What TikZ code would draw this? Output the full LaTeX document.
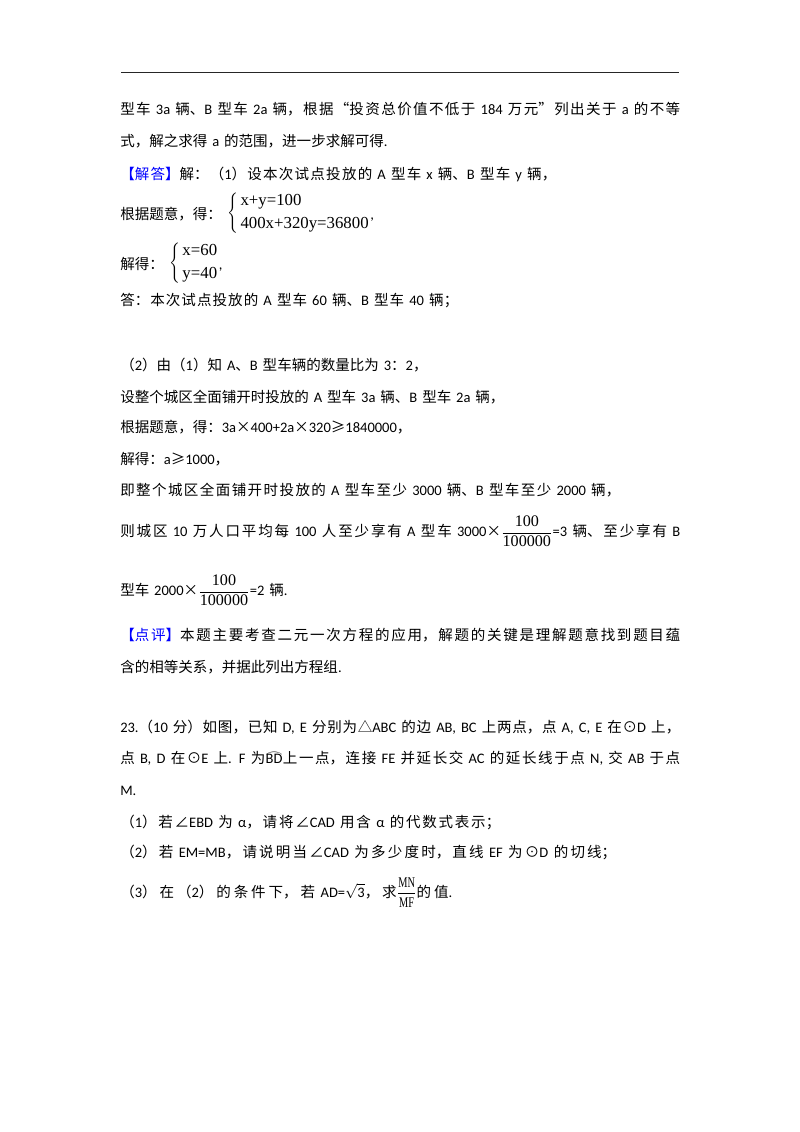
\documentclass[tikz,border=0pt]{standalone}
\usepackage{fontspec}
\usepackage{graphicx}
\setmainfont{Carlito}[WordSpace={1.5,0.5,1}]
\newfontfamily\cjk{Noto Sans CJK SC}
\newfontfamily\tms{Liberation Serif}
\definecolor{tagblue}{RGB}{0,0,255}
% hanzi runs are set in the CJK font, the rest in Carlito
\XeTeXinterchartokenstate=1
\newXeTeXintercharclass\hanzi
\makeatletter
\newcommand\hanzirange[2]{\count@=#1\relax
  \loop\XeTeXcharclass\count@=\hanzi\relax
  \ifnum\count@<#2\relax\advance\count@ by 1\repeat}
\makeatother
\hanzirange{"3000}{"303F}
\hanzirange{"4E00}{"9FFF}
\hanzirange{"FF00}{"FFEF}
\XeTeXcharclass"201C=\hanzi
\XeTeXcharclass"201D=\hanzi
\XeTeXcharclass"00D7=\hanzi
\XeTeXcharclass"2220=\hanzi
\XeTeXcharclass"2265=\hanzi
\XeTeXcharclass"2299=\hanzi
\XeTeXcharclass"25B3=\hanzi
\XeTeXinterchartoks 0 \hanzi={\cjk}
\XeTeXinterchartoks 4095 \hanzi={\cjk}
\XeTeXinterchartoks \hanzi 0={\rmfamily}
\XeTeXinterchartoks \hanzi 4095={\rmfamily}
\XeTeXlinebreaklocale "zh"
\XeTeXlinebreakskip=0pt plus 3pt
\newcommand\pagefont{\fontsize{10.8pt}{13pt}\selectfont}
\newcommand\eqn[1]{\hbox{\fontsize{12.5pt}{15pt}\tms #1}}
\newcommand\numfrac[2]{$\displaystyle\frac{\hbox{\fontsize{12pt}{14pt}\tms #1}}{\hbox{\fontsize{12pt}{14pt}\tms #2}}$}
\newcommand\thinfrac[2]{$\displaystyle\frac{\hbox{\fontsize{11pt}{13pt}\tms\scalebox{0.7}[1]{#1}}}{\hbox{\fontsize{11pt}{13pt}\tms\scalebox{0.7}[1]{#2}}}$}
\newcommand\arcover[1]{\vbox{\offinterlineskip\halign{\hfil##\hfil\cr\scalebox{1.2}[0.8]{$\frown$}\cr\noalign{\kern-1.5pt}#1\cr}}}
\renewcommand\arraystretch{1.27}
\begin{document}
\begin{tikzpicture}[x=0.744pt, y=-0.744pt,
    line/.style={anchor=base west, inner sep=0pt, font=\pagefont},
    endsat/.code={\pgfmathsetlengthmacro\linew{(#1-120)*0.744pt}%
      \tikzset{line, text width=\linew, align=justify,
        execute at begin node={\parfillskip=0pt\relax}}},
    fullline/.style={endsat=680}]
  \useasboundingbox (0,0) rectangle (800,1132);
  \draw[line width=1pt, black!85] (121,72.5) -- (679,72.5);
  % analysis, end
  \node[fullline] (l1) at (120,114) {型车 3a 辆、B 型车 2a 辆，根据“投资总价值不低于 184 万元”列出关于 a 的不等};
  \node[line] (l2) at (120,146) {式，解之求得 a 的范围，进一步求解可得.};
  % solution
  \node[endsat=556] (l3) at (120,179) {{\color{tagblue}【解答】}解：（1）设本次试点投放的 A 型车 x 辆、B 型车 y 辆，};
  \node[line] (l4) at (120,219) {根据题意，得：\hspace{4pt}\raisebox{2pt}{$\left\{\,\begin{array}{@{}l@{}}\eqn{x+y=100}\\\eqn{400x+320y=36800}\end{array}\right.$},};
  \node[line] (l5) at (120,269) {解得：\hspace{4pt}\raisebox{2pt}{$\left\{\,\begin{array}{@{}l@{}}\eqn{x=60}\\\eqn{y=40}\end{array}\right.$},};
  \node[endsat=458] (l6) at (120,305.5) {答：本次试点投放的 A 型车 60 辆、B 型车 40 辆；};
  \node[line] (l7) at (120,370.5) {（2）由（1）知 A、B 型车辆的数量比为 3：2，};
  \node[line] (l8) at (120,402) {设整个城区全面铺开时投放的 A 型车 3a 辆、B 型车 2a 辆，};
  \node[line] (l9) at (120,432) {根据题意，得：3a×400+2a×320≥1840000，};
  \node[line] (l10) at (120,464) {解得：a≥1000，};
  \node[endsat=620] (l11) at (120,495) {即整个城区全面铺开时投放的 A 型车至少 3000 辆、B 型车至少 2000 辆，};
  \node[fullline] (l12) at (120,536.5) {则城区 10 万人口平均每 100 人至少享有 A 型车 3000×\numfrac{100}{100000}=3 辆、至少享有 B};
  \node[line] (l13) at (120,595.5) {型车 2000×\numfrac{100}{100000}=2 辆.};
  % comment
  \node[fullline] (l14) at (120,640.5) {{\color{tagblue}【点评】}本题主要考查二元一次方程的应用，解题的关键是理解题意找到题目蕴};
  \node[line] (l15) at (120,672) {含的相等关系，并据此列出方程组.};
  % question 23
  \node[fullline] (l16) at (120,732) {23.（10 分）如图，已知 D, E 分别为△ABC 的边 AB, BC 上两点，点 A, C, E 在⊙D 上，};
  \node[fullline] (l17) at (120,763.5) {点 B, D 在⊙E 上. F 为\arcover{BD}上一点，连接 FE 并延长交 AC 的延长线于点 N, 交 AB 于点};
  \node[line] (l18) at (120,795) {M.};
  \node[endsat=500] (l19) at (120,827) {（1）若∠EBD 为 α，请将∠CAD 用含 α 的代数式表示；};
  \node[endsat=616] (l20) at (120,857) {（2）若 EM=MB，请说明当∠CAD 为多少度时，直线 EF 为⊙D 的切线；};
  \node[endsat=452] (l21) at (120,897) {（3）在（2）的条件下，若 AD=$\sqrt{\mbox{3}}$，求\thinfrac{MN}{MF}的值.};
\end{tikzpicture}
\end{document}
